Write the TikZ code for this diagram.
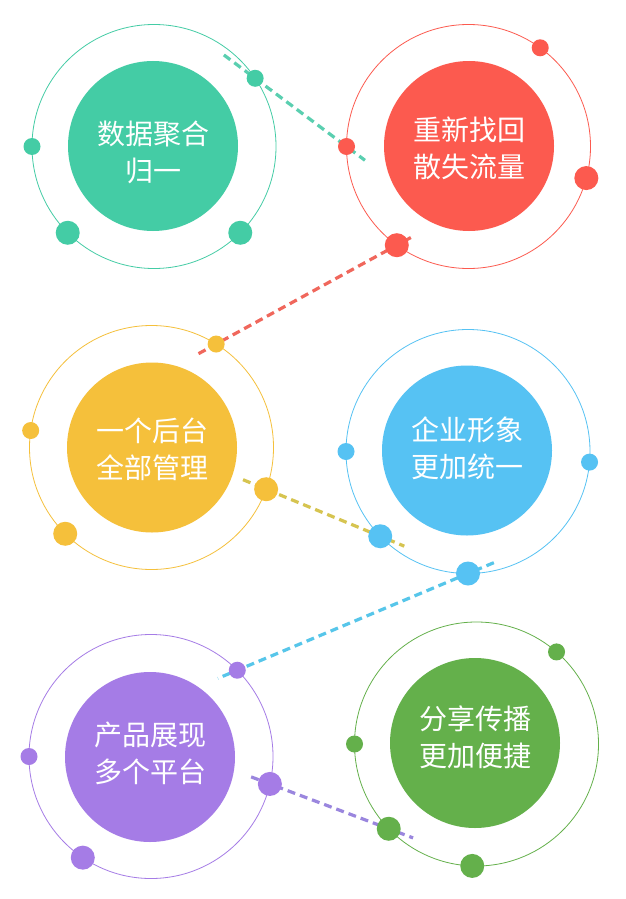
\documentclass[tikz,border=0pt]{standalone}
\usepackage{fontspec}
\newfontfamily\cjk{Noto Sans CJK SC}
\usepackage{tikz}
\usetikzlibrary{backgrounds}
\usepackage{xcolor}
\definecolor{cteal}{HTML}{44CCA5}
\definecolor{cred}{HTML}{FC5A4F}
\definecolor{cyellow}{HTML}{F5C03B}
\definecolor{cblue}{HTML}{56C2F3}
\definecolor{cpurple}{HTML}{A57CE6}
\definecolor{cgreen}{HTML}{64B04B}
\definecolor{lteal}{HTML}{5ACFB0}
\definecolor{lred}{HTML}{F0675C}
\definecolor{lyellow}{HTML}{D6C450}
\definecolor{lblue}{HTML}{57C6EA}
\definecolor{lpurple}{HTML}{9A86DE}

\begin{document}
\begin{tikzpicture}[
  x=1pt, y=-1pt,
  every node/.style={align=center},
  ring/.style={draw=#1, circle, line width=0.8pt, minimum size=244pt,
               inner sep=0pt, outer sep=0pt},
  disk/.style={fill=#1, circle, minimum size=170pt, inner sep=0pt},
  caption/.style={text=white, font=\cjk\fontsize{28}{37}\selectfont},
  dotsm/.style={fill=#1, circle, minimum size=17pt, inner sep=0pt},
  dotlg/.style={fill=#1, circle, minimum size=24pt, inner sep=0pt},
  dashln/.style={draw=#1, line width=3.2pt, dash pattern=on 8pt off 5pt}
]
\useasboundingbox (0,0) rectangle (626,899);

% rings and disks
\node[ring=cteal] (dataring) at (154,146.5) {};
\node[disk=cteal] (datadisk) at (153,146) {};
\node[ring=cred] (flowring) at (468.5,146.5) {};
\node[disk=cred] (flowdisk) at (469,146) {};
\node[ring=cyellow] (adminring) at (151.5,447.5) {};
\node[disk=cyellow] (admindisk) at (152,447.5) {};
\node[ring=cblue] (brandring) at (468,451.5) {};
\node[disk=cblue] (branddisk) at (467,450.5) {};
\node[ring=cpurple] (multiring) at (151,756.5) {};
\node[disk=cpurple] (multidisk) at (150,757) {};
\node[ring=cgreen] (sharering) at (476.5,744) {};
\node[disk=cgreen] (sharedisk) at (475,743) {};

% texts
\node[caption] (datatext) at ([yshift=-6pt]datadisk.center) {数据聚合\\归一};
\node[caption] (flowtext) at ([yshift=-2pt]flowdisk.center) {重新找回\\散失流量};
\node[caption] (admintext) at ([yshift=-1.5pt]admindisk.center) {一个后台\\全部管理};
\node[caption] (brandtext) at ([yshift=2pt]branddisk.center) {企业形象\\更加统一};
\node[caption] (multitext) at ([yshift=4pt]multidisk.center) {产品展现\\多个平台};
\node[caption] (sharetext) at ([yshift=5.5pt]sharedisk.center) {分享传播\\更加便捷};

% dots on the rings
\node[dotsm=cteal] (data1) at (dataring.34) {};
\node[dotsm=cteal] (data2) at (dataring.180) {};
\node[dotlg=cteal] (data3) at (dataring.225) {};
\node[dotlg=cteal] (data4) at (dataring.315) {};

\node[dotsm=cred] (flow1) at (flowring.54) {};
\node[dotsm=cred] (flow2) at (flowring.180) {};
\node[dotlg=cred] (flow3) at (flowring.345) {};
\node[dotlg=cred] (flow4) at (flowring.234) {};

\node[dotsm=cyellow] (admin1) at (adminring.58) {};
\node[dotsm=cyellow] (admin2) at (adminring.172.5) {};
\node[dotlg=cyellow] (admin3) at (adminring.340) {};
\node[dotlg=cyellow] (admin4) at (adminring.225) {};

\node[dotsm=cblue] (brand1) at (brandring.180) {};
\node[dotsm=cblue] (brand2) at (brandring.355) {};
\node[dotlg=cblue] (brand3) at (brandring.224.5) {};
\node[dotlg=cblue] (brand4) at (brandring.270) {};

\node[dotsm=cpurple] (multi1) at (multiring.45.5) {};
\node[dotsm=cpurple] (multi2) at (multiring.180) {};
\node[dotlg=cpurple] (multi3) at (multiring.347) {};
\node[dotlg=cpurple] (multi4) at (multiring.236) {};

\node[dotsm=cgreen] (share1) at (sharering.49) {};
\node[dotsm=cgreen] (share2) at (sharering.180) {};
\node[dotlg=cgreen] (share3) at (sharering.224) {};
\node[dotlg=cgreen] (share4) at (sharering.268) {};

% dashed links behind everything
\begin{scope}[on background layer]
\fill[white] (0,0) rectangle (626,899);
\draw[dashln=lteal, shorten <=-39pt, shorten >=-23pt] (data1.center) -- (flow2.center);
\draw[dashln=lred, shorten <=-16pt, shorten >=-25pt] (flow4.center) -- (admin1.center);
\draw[dashln=lyellow, shorten <=-25pt, shorten >=-26pt] (admin3.center) -- (brand3.center);
\draw[dashln=lblue, shorten <=-28pt, shorten >=-21pt] (brand4.center) -- (multi1.center);
\draw[dashln=lpurple, shorten <=-20pt, shorten >=-26pt] (multi3.center) -- (share3.center);
\end{scope}
\end{tikzpicture}
\end{document}
